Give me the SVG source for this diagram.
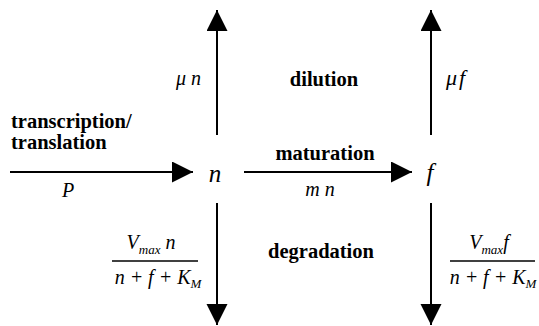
<svg xmlns="http://www.w3.org/2000/svg" width="539" height="326" viewBox="0 0 539 326">
<defs>
<marker id="ah" markerUnits="userSpaceOnUse" markerWidth="22" markerHeight="22" refX="21" refY="10.5" orient="auto">
<path d="M0,0 L21,10.5 L0,21 Z" fill="#000"/>
</marker>
<style>
.c{stroke:#000;stroke-width:2;fill:none;marker-end:url(#ah)}
.b{font-family:"Liberation Serif","Times New Roman",serif;font-weight:bold;font-size:20.5px;fill:#000}
.i{font-family:"Liberation Serif","Times New Roman",serif;font-style:italic;font-size:20px;fill:#000}
.nd{font-family:"Liberation Serif","Times New Roman",serif;font-style:italic;font-size:25px;fill:#000}
.s{font-size:13px}
.bar{stroke:#000;stroke-width:1.5}
</style>
</defs>
<rect width="539" height="326" fill="#fff"/>
<g id="connectors">
<line class="c" x1="10" y1="172" x2="193" y2="172"/>
<line class="c" x1="244" y1="172" x2="412" y2="172"/>
<line class="c" x1="217" y1="135" x2="217" y2="10"/>
<line class="c" x1="431" y1="135" x2="431" y2="10"/>
<line class="c" x1="217" y1="203" x2="217" y2="325"/>
<line class="c" x1="431" y1="203" x2="431" y2="325"/>
</g>
<g id="node-n"><text class="nd" x="215" y="182" text-anchor="middle">n</text></g>
<g id="node-f"><text class="nd" x="430" y="181" text-anchor="middle">f</text></g>
<g id="label-production">
<text class="b" x="11" y="128">transcription/</text>
<text class="b" x="11" y="149">translation</text>
<text class="i" x="68" y="197" text-anchor="middle">P</text>
</g>
<g id="label-maturation">
<text class="b" x="325" y="160" text-anchor="middle">maturation</text>
<text class="i" x="320" y="196" text-anchor="middle">m n</text>
</g>
<g id="label-dilution">
<text class="b" x="324" y="86" text-anchor="middle">dilution</text>
<text class="i" x="176" y="85">μ n</text>
<text class="i" x="446" y="85" style="font-size:22px;letter-spacing:2px">μf</text>
</g>
<g id="label-degradation">
<text class="b" x="321" y="258" text-anchor="middle">degradation</text>
<text class="i" x="151" y="249" text-anchor="middle">V<tspan class="s" dy="5">max</tspan><tspan dy="-5"> n</tspan></text>
<line class="bar" x1="112" y1="261" x2="198" y2="261"/>
<text class="i" x="158" y="284" text-anchor="middle">n + f + K<tspan class="s" dy="4">M</tspan></text>
<text class="i" x="489" y="249" text-anchor="middle">V<tspan class="s" dy="5">max</tspan><tspan dy="-5">f</tspan></text>
<line class="bar" x1="450" y1="261" x2="535" y2="261"/>
<text class="i" x="493" y="284" text-anchor="middle">n + f + K<tspan class="s" dy="4">M</tspan></text>
</g>
</svg>
